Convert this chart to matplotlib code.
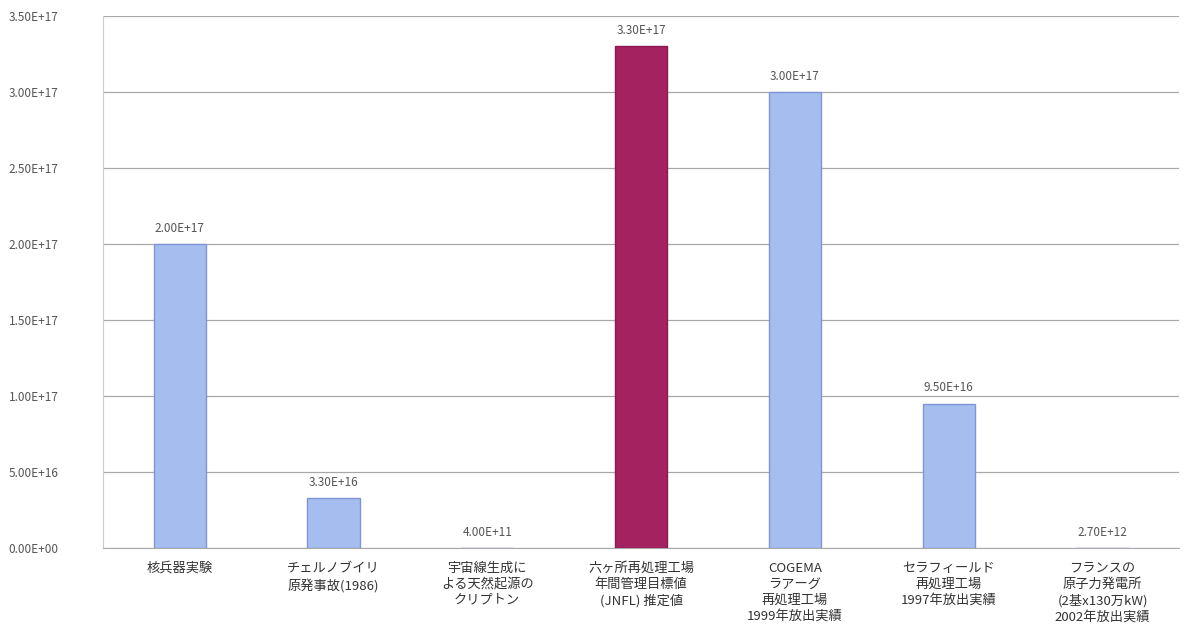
import matplotlib
matplotlib.use('Agg')
import matplotlib.pyplot as plt
import numpy as np

plt.rcParams['font.family'] = ['Noto Sans CJK JP', 'DejaVu Sans']

# categories / values
cats = ['核兵器実験',
        'チェルノブイリ\n原発事故(1986)',
        '宇宙線生成に\nよる天然起源の\nクリプトン',
        '六ヶ所再処理工場\n年間管理目標値\n(JNFL) 推定値',
        'COGEMA\nラアーグ\n再処理工場\n1999年放出実績',
        'セラフィールド\n再処理工場\n1997年放出実績',
        'フランスの\n原子力発電所\n(2基x130万kW)\n2002年放出実績']
vals = [2.0e17, 3.3e16, 4.0e11, 3.3e17, 3.0e17, 9.5e16, 2.7e12]
val_labels = ['2.00E+17', '3.30E+16', '4.00E+11', '3.30E+17', '3.00E+17', '9.50E+16', '2.70E+12']
highlight = 3

yticks = [0, 5e16, 1e17, 1.5e17, 2e17, 2.5e17, 3e17, 3.5e17]
ytick_labels = ['0.00E+00', '5.00E+16', '1.00E+17', '1.50E+17', '2.00E+17', '2.50E+17', '3.00E+17', '3.50E+17']

fig = plt.figure(figsize=(11.95, 6.38), dpi=100)
ax = fig.add_axes([0.086, 0.141, 0.901, 0.834])

x = np.arange(len(cats))
colors = ['#a6bdef'] * len(cats)
colors[highlight] = '#a3225f'
edges = ['#7f95d6'] * len(cats)
edges[highlight] = '#8a1a4f'
ax.bar(x, vals, width=0.34, color=colors, edgecolor=edges, linewidth=1, zorder=3)

for xi, v, lab in zip(x, vals, val_labels):
    ax.text(xi, v + 0.06e17, lab, ha='center', va='bottom', fontsize=8.5, color='#555555')

ax.set_xlim(-0.5, len(cats) - 0.5)
ax.set_ylim(0, 3.5e17)
ax.set_yticks(yticks)
ax.set_yticklabels(ytick_labels, fontsize=8.5, color='#555555')
ax.set_xticks(x)
ax.set_xticklabels(cats, fontsize=9.5, color='#333333', linespacing=1.3)
ax.tick_params(axis='x', length=0, pad=10)
ax.tick_params(axis='y', length=0, pad=32)

ax.grid(axis='y', color='#a8a8a8', linewidth=0.9, zorder=0)
for s in ['top', 'right']:
    ax.spines[s].set_visible(False)
ax.spines['left'].set_color('#cccccc')
ax.spines['bottom'].set_color('#aaaaaa')

fig.savefig('out.png', dpi=100)
